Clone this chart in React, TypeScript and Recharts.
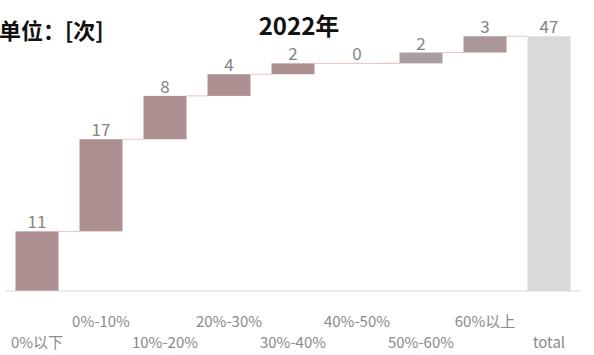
import { ComposedChart, Bar, XAxis, YAxis, Cell, LabelList } from "recharts";

const categories = ["0%以下", "0%-10%", "10%-20%", "20%-30%", "30%-40%", "40%-50%", "50%-60%", "60%以上", "total"];
const values = [11, 17, 8, 4, 2, 0, 2, 3, 47];
const barColors = ["#ad8f92", "#ad8f92", "#ad8f92", "#ad8f92", "#ad8f92", "#ad8f92", "#a89fa1", "#aa9597", "#d9d9d9"];

let running = 0;
const data = categories.map((name, i) => {
  const isTotal = i === categories.length - 1;
  const base = isTotal ? 0 : running;
  if (!isTotal) running += values[i];
  return { name, base, value: values[i] };
});

const FONT = "'Noto Sans CJK SC', 'Noto Sans', sans-serif";
const GAP = 21;

// bar + connector to the next bar (zero-height bars are skipped by recharts, so bridge over them)
const StepBar = (props: any) => {
  const { x, y, width, height, fill, index } = props;
  let len = GAP;
  let j = index + 1;
  while (j < values.length - 1 && values[j] === 0) {
    len += width + GAP;
    j++;
  }
  return (
    <g>
      <rect x={x} y={y} width={width} height={Math.max(height, 0)} fill={fill} />
      {index < categories.length - 1 && (
        <line x1={x + width} x2={x + width + len} y1={y} y2={y} stroke="#ecc4c4" strokeWidth={1} />
      )}
    </g>
  );
};

const Tick = (props: any) => {
  const { x, y, payload, index } = props;
  const dy = index % 2 === 1 ? 36 : 57;
  return (
    <text x={x} y={y + dy} textAnchor="middle" fontSize={15} fill="#8a8a8a" fontFamily={FONT}>
      {payload.value}
    </text>
  );
};

export default function App() {
  return (
    <div style={{ position: "absolute", left: 0, top: 0, width: 594, height: 355, background: "#fff", fontFamily: FONT }}>
      <div style={{ position: "absolute", left: -1, top: 12, fontSize: 22, fontWeight: 700, color: "#111", lineHeight: "34px" }}>
        单位：[次]
      </div>
      <div style={{ position: "absolute", left: 0, width: 598, top: 8, textAlign: "center", fontSize: 24, fontWeight: 700, color: "#111", lineHeight: "34px" }}>
        2022年
      </div>
      <ComposedChart
        width={594}
        height={355}
        data={data}
        margin={{ top: 20, right: 13, bottom: 0, left: 5 }}
        barCategoryGap={GAP / 2}
      >
        <XAxis
          dataKey="name"
          axisLine={{ stroke: "#d9d9d9" }}
          tickLine={false}
          tickSize={0}
          tickMargin={0}
          interval={0}
          tick={<Tick />}
          height={64}
        />
        <YAxis hide domain={[0, 50]} />
        <Bar dataKey="base" stackId="w" fill="transparent" isAnimationActive={false} />
        <Bar dataKey="value" stackId="w" isAnimationActive={false} shape={<StepBar />}>
          {data.map((d, i) => (
            <Cell key={d.name} fill={barColors[i]} />
          ))}
          <LabelList dataKey="value" position="top" offset={3} fill="#858585" fontSize={17} fontFamily={FONT} />
        </Bar>
      </ComposedChart>
    </div>
  );
}
